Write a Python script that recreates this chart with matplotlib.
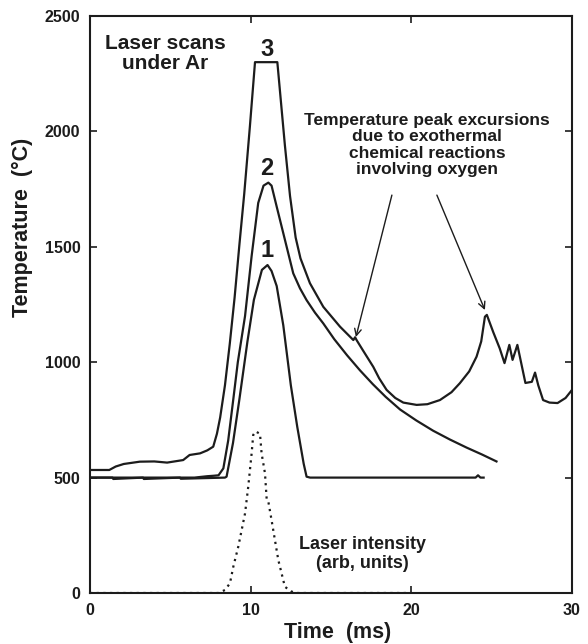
import numpy as np
import matplotlib
matplotlib.use('Agg')
import matplotlib.pyplot as plt

plt.rcParams['font.family'] = ['Liberation Sans', 'DejaVu Sans']
plt.rcParams['font.weight'] = 'bold'

##Scan 1 (lowest peak)
t1 = [0, 1.4, 1.45, 3.3, 3.35, 5.6, 5.65, 8.4, 8.5, 8.9, 9.3, 9.8, 10.2, 10.7, 11.05, 11.3,
      11.62, 12.03, 12.5, 12.9, 13.3, 13.48, 13.7, 24.0, 24.15, 24.3, 24.5]
T1 = [500, 500, 494, 500, 494, 500, 495, 500, 504, 650, 840, 1090, 1270, 1400, 1421, 1395,
      1330, 1160, 900, 720, 560, 504, 500, 500, 510, 500, 500]

##Scan 2
t2 = [0, 6.5, 7.3, 7.7, 8.0, 8.3, 8.6, 8.92, 9.2, 9.65, 10.06, 10.47, 10.8, 11.1, 11.3,
      11.62, 12.03, 12.65, 13.07, 13.48, 14.0, 14.52, 15.2, 16.0, 16.8, 17.6, 18.4, 19.3,
      20.3, 21.36, 22.4, 23.44, 24.4, 25.3]
T2 = [500, 500, 506, 508, 510, 540, 660, 840, 1000, 1200, 1460, 1690, 1765, 1778, 1765,
      1674, 1559, 1385, 1320, 1269, 1215, 1168, 1100, 1030, 965, 905, 850, 795,
      748, 703, 665, 630, 600, 570]

##Scan 3 (saturated at the top, oxygen bumps on the way down)
t3 = [0, 1.2, 1.6, 2.1, 3.1, 4.0, 4.8, 5.8, 6.2, 6.85, 7.3, 7.67, 7.9, 8.1, 8.4, 8.7, 9.0,
      9.3, 9.6, 9.95, 10.27, 11.66, 12.13, 12.45, 12.8, 13.1, 13.69, 14.52, 15.56, 16.39,
      16.5, 16.6, 17.0, 17.63, 18.0, 18.46, 19.0, 19.5, 20.33, 21.0, 21.78, 22.5, 23.02,
      23.6, 24.06, 24.35, 24.58, 24.7, 25.1, 25.5, 25.8, 26.1, 26.3, 26.6, 27.1, 27.5, 27.7,
      27.9, 28.2, 28.6, 29.1, 29.6, 30.0]
T3 = [533, 533, 548, 559, 569, 570, 565, 576, 598, 605, 618, 634, 690, 760, 900, 1080, 1280,
      1510, 1730, 2020, 2300, 2300, 1940, 1720, 1540, 1450, 1342, 1240, 1154, 1096,
      1108, 1095, 1050, 980, 930, 880, 845, 825, 815, 818, 836, 870, 909,
      960, 1024, 1090, 1197, 1205, 1130, 1060, 996, 1075, 1010, 1075, 910, 915, 955,
      900, 836, 825, 823, 845, 880]

##Laser intensity pulse (arb. units, dotted)
tL = [0, 8.0, 8.4, 8.71, 8.92, 9.23, 9.44, 9.65, 9.85, 10.06, 10.16, 10.3, 10.58, 10.68,
      10.89, 11.0, 11.1, 11.3, 11.72, 12.13, 12.5, 12.76, 20.0]
IL = [0, 0, 13, 42, 114, 201, 273, 345, 461, 605, 685, 700, 690, 605,
      519, 403, 396, 316, 143, 27, 8, 0, 0]

xticks = [0, 10, 20, 30]
yticks = [0, 500, 1000, 1500, 2000, 2500]

ink = '#1c1c1c'

fig = plt.figure(figsize=(5.88, 6.44), dpi=100)
ax = fig.add_axes([90/588, 1-593/644, 482/588, 577/644])

ax.plot(t1, T1, color=ink, lw=1.6)
ax.plot(t2, T2, color=ink, lw=1.6)
ax.plot(t3, T3, color=ink, lw=1.6)
ax.plot(tL, IL, color=ink, lw=1.6, linestyle=(0, (1, 2)))

ax.set_xlim(0, 30)
ax.set_ylim(0, 2500)
ax.set_xticks(xticks)
ax.set_yticks(yticks)
ax.tick_params(direction='in', length=5, width=1.2, top=True, right=True,
               labelsize=11.5, pad=7, colors=ink)
for s in ax.spines.values():
    s.set_linewidth(1.5)
    s.set_color(ink)

ax.set_xlabel('Time  (ms)', fontsize=15.5, fontweight='bold', color=ink)
ax.set_ylabel('Temperature  (\u00b0C)', fontsize=15.5, fontweight='bold', color=ink)
ax.xaxis.set_label_coords(0.513, -0.05)
ax.yaxis.set_label_coords(-0.118, 0.633)

##Annotations
ax.text(4.67, 2337, 'Laser scans\nunder Ar', ha='center', va='center', fontsize=15,
        linespacing=1.05, color=ink)
for lab, yy in [('3', 2357), ('2', 1840), ('1', 1486)]:
    ax.text(11.0, yy, lab, ha='center', va='center', fontsize=17, color=ink)
ax.text(20.97, 1941, 'Temperature peak excursions\ndue to exothermal\nchemical reactions\ninvolving oxygen',
        ha='center', va='center', fontsize=12.5, linespacing=1.1, color=ink)
ax.text(16.93, 171, 'Laser intensity\n(arb, units)', ha='center', va='center', fontsize=13,
        linespacing=1.15, color=ink)

arrow = dict(arrowstyle='->', lw=1.0, color=ink, shrinkA=0, shrinkB=0, mutation_scale=12)
ax.annotate('', xy=(16.55, 1109), xytext=(18.79, 1724), arrowprops=arrow)
ax.annotate('', xy=(24.58, 1226), xytext=(21.59, 1724), arrowprops=arrow)

fig.savefig('out.png', dpi=100)
